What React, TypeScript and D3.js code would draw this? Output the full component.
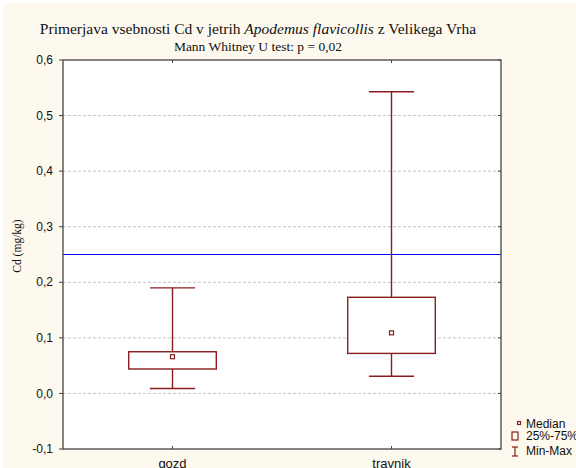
import * as d3 from "d3";

const W = 576;
const H = 468;

const categories = ["gozd", "travnik"];
const minVals = [0.009, 0.031];
const q1Vals = [0.044, 0.072];
const medianVals = [0.066, 0.109];
const q3Vals = [0.075, 0.173];
const maxVals = [0.19, 0.543];
const yTicks = [-0.1, 0, 0.1, 0.2, 0.3, 0.4, 0.5, 0.6];
const refLine = 0.25;

const RED = "#8b1c1c";
const fmt = (v: number) => d3.format(".1f")(v).replace(".", ",").replace("−", "-");

export default function App() {
  const left = 63;
  const right = 501;
  const top = 60;
  const bottom = 449;

  const x = d3.scalePoint<string>().domain(categories).range([left, right]).padding(0.5);
  const y = d3.scaleLinear().domain([-0.1, 0.6]).range([bottom, top]);
  const boxW = x.step() * 0.4;
  const capW = x.step() * 0.103;

  const boxes = categories.map((c, i) => ({
    c,
    min: minVals[i],
    q1: q1Vals[i],
    med: medianVals[i],
    q3: q3Vals[i],
    max: maxVals[i],
  }));

  return (
    <div style={{ position: "absolute", left: 0, top: 0 }}>
      <svg width={W} height={H} style={{ display: "block" }}>
        <rect x={0} y={0} width={W} height={H} fill="#ffffff" />
        <rect x={3} y={3} width={W - 3} height={H - 3} fill="#fdf9ee" />
        <rect x={left} y={top} width={right - left} height={bottom - top} fill="#ffffff" />

        {/* grid */}
        {yTicks.slice(1, -1).map((t) => (
          <line
            key={t}
            x1={left}
            x2={right}
            y1={y(t)}
            y2={y(t)}
            stroke="#c4c4c4"
            strokeWidth={1}
            strokeDasharray="3,2"
          />
        ))}

        {/* reference line */}
        <line x1={left} x2={right} y1={y(refLine)} y2={y(refLine)} stroke="#0000ff" strokeWidth={1.2} />

        {/* boxes */}
        {boxes.map((b) => {
          const cx = x(b.c)!;
          return (
            <g key={b.c} stroke={RED} fill="none" strokeWidth={1.4}>
              <line x1={cx} x2={cx} y1={y(b.max)} y2={y(b.q3)} />
              <line x1={cx} x2={cx} y1={y(b.q1)} y2={y(b.min)} />
              <line x1={cx - capW} x2={cx + capW} y1={y(b.max)} y2={y(b.max)} />
              <line x1={cx - capW} x2={cx + capW} y1={y(b.min)} y2={y(b.min)} />
              <rect
                x={cx - boxW / 2}
                y={y(b.q3)}
                width={boxW}
                height={y(b.q1) - y(b.q3)}
                fill="#ffffff"
              />
              <rect x={cx - 2} y={y(b.med) - 2} width={4} height={4} fill="#ffffff" strokeWidth={1.2} />
            </g>
          );
        })}

        {/* frame */}
        <rect x={left} y={top} width={right - left} height={bottom - top} fill="none" stroke="#444" strokeWidth={1.3} />

        {/* y ticks */}
        {yTicks.map((t) => (
          <g key={t}>
            <line x1={left - 4} x2={left} y1={y(t)} y2={y(t)} stroke="#444" />
            <line x1={right - 3} x2={right} y1={y(t)} y2={y(t)} stroke="#444" />
            <text
              x={left - 10}
              y={y(t)}
              dy="0.35em"
              textAnchor="end"
              fontFamily="Arial, 'Liberation Sans', sans-serif"
              fontSize={12}
              fill="#111"
            >
              {fmt(t)}
            </text>
          </g>
        ))}

        {/* x ticks */}
        {categories.map((c) => (
          <g key={c}>
            <line x1={x(c)} x2={x(c)} y1={bottom} y2={bottom - 3} stroke="#444" />
            <line x1={x(c)} x2={x(c)} y1={top} y2={top + 3} stroke="#444" />
            <text
              x={x(c)}
              y={468}
              textAnchor="middle"
              fontFamily="Arial, 'Liberation Sans', sans-serif"
              fontSize={13}
              fill="#111"
            >
              {c}
            </text>
          </g>
        ))}

        {/* titles */}
        <text
          x={258}
          y={34}
          textAnchor="middle"
          fontFamily="'Liberation Serif', 'Times New Roman', serif"
          fontSize={15.5}
          fill="#111"
        >
          Primerjava vsebnosti Cd v jetrih <tspan fontStyle="italic">Apodemus flavicollis</tspan> z Velikega Vrha
        </text>
        <text
          x={258}
          y={51}
          textAnchor="middle"
          fontFamily="'Liberation Serif', 'Times New Roman', serif"
          fontSize={13.5}
          fill="#111"
        >
          Mann Whitney U test: p = 0,02
        </text>
        <text
          transform={`translate(21,${246}) rotate(-90)`}
          textAnchor="middle"
          fontFamily="'Liberation Serif', 'Times New Roman', serif"
          fontSize={11.5}
          fill="#111"
        >
          Cd (mg/kg)
        </text>

        {/* legend */}
        <g fontFamily="Arial, 'Liberation Sans', sans-serif" fontSize={12} fill="#111">
          <rect x={517.5} y={421.5} width={3} height={3} fill="none" stroke={RED} strokeWidth={1.2} />
          <text x={526} y={428}>Median</text>
          <rect x={512} y={432} width={6} height={8} fill="none" stroke={RED} strokeWidth={1.2} />
          <text x={526} y={440}>25%-75%</text>
          <g stroke={RED} strokeWidth={1.2}>
            <line x1={512} x2={518} y1={447} y2={447} />
            <line x1={515} x2={515} y1={447} y2={456} />
            <line x1={512} x2={518} y1={456} y2={456} />
          </g>
          <text x={526} y={455}>Min-Max</text>
        </g>
      </svg>
    </div>
  );
}
